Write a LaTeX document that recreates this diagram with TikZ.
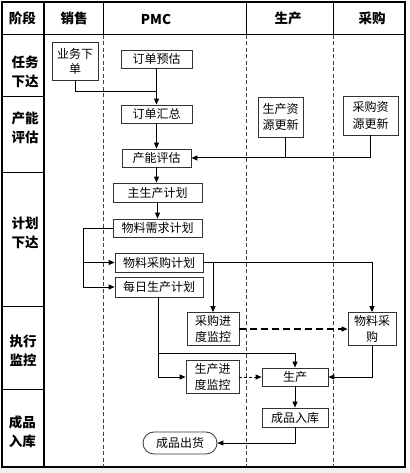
\documentclass[tikz,border=0pt]{standalone}
\usepackage{fontspec}
\setmainfont{Noto Sans CJK SC}
\usetikzlibrary{arrows.meta}
\tikzset{
  box/.style={draw=black!80, line width=0.8pt, inner sep=0pt, align=center,
    font=\fontsize{12}{16.5}\selectfont},
  conn/.style={line width=1pt, -{Triangle[length=6pt,width=5pt]}},
  plainline/.style={line width=1pt},
  lane/.style={dash pattern=on 4pt off 2.5pt, line width=0.9pt, draw=black!75},
  hdr/.style={font=\fontsize{13.5}{19}\selectfont\bfseries, align=center, inner sep=0pt},
  bigdash/.style={dash pattern=on 7pt off 4pt, line width=1.7pt},
  smalldash/.style={dash pattern=on 3pt off 2pt},
}
\begin{document}
\begin{tikzpicture}[x=1pt,y=-1pt]
\useasboundingbox (0,0) rectangle (409,473);
\fill[white] (0,0) rectangle (409,473);
\fill[black!6] (0,468) rectangle (409,473);
% frame
\draw[line width=2pt] (2,2) rectangle (405,467);
\draw[line width=1.2pt] (44,2) -- (44,467);
\draw[line width=1pt] (2,35) -- (405,35);
\foreach \x in {103,246,333} \draw[line width=1pt] (\x,2) -- (\x,35);
\foreach \y in {97,172,306,389} \draw[line width=1pt] (2,\y) -- (44,\y);
\foreach \x in {103,246,333} \draw[lane] (\x,35) -- (\x,467);
% headers
\node[hdr] (h1) at (22.5,18) {阶段};
\node[hdr] (h2) at (74,18) {销售};
\node[hdr] (h3) at (156,19) {PMC};
\node[hdr] (h4) at (288,18) {生产};
\node[hdr] (h5) at (372,18) {采购};
\node[hdr] (r1) at (25,72) {任务\\下达};
\node[hdr] (r2) at (25,128) {产能\\评估};
\node[hdr] (r3) at (25,233) {计划\\下达};
\node[hdr] (r4) at (23,351) {执行\\监控};
\node[hdr] (r5) at (22.5,432) {成品\\入库};
% boxes
\node[box, minimum width=46pt, minimum height=38pt, font=\fontsize{12}{15}\selectfont] (yw) at (75,61) {业务下\\单};
\node[box, minimum width=71pt, minimum height=18pt] (yg) at (156.5,59) {订单预估};
\node[box, minimum width=71pt, minimum height=18pt] (hz) at (156.5,114) {订单汇总};
\node[box, minimum width=69pt, minimum height=18pt] (cn) at (156.5,158) {产能评估};
\node[box, minimum width=89pt, minimum height=19pt] (zsc) at (157.5,192.5) {主生产计划};
\node[box, minimum width=89pt, minimum height=18pt] (wlxq) at (157.5,228) {物料需求计划};
\node[box, minimum width=88pt, minimum height=19pt] (wlcg) at (159,262.5) {物料采购计划};
\node[box, minimum width=88pt, minimum height=20pt] (mrsc) at (159,287) {每日生产计划};
\node[box, minimum width=52pt, minimum height=33pt] (cgjd) at (213,329) {采购进\\度监控};
\node[box, minimum width=53pt, minimum height=33pt] (scjd) at (212.5,377) {生产进\\度监控};
\node[box, minimum width=45pt, minimum height=40pt] (sczy) at (280.5,117) {生产资\\源更新};
\node[box, minimum width=55pt, minimum height=39pt] (cgzy) at (370.5,115.5) {采购资\\源更新};
\node[box, minimum width=48pt, minimum height=33pt] (wlcgb) at (372,329) {物料采\\购};
\node[box, minimum width=66pt, minimum height=18pt] (sc) at (295,377) {生产};
\node[box, minimum width=66pt, minimum height=19pt] (cprk) at (295,417.5) {成品入库};
\node[box, minimum width=74pt, minimum height=22pt, rounded corners=11pt] (cpch) at (180,443) {成品出货};
% connectors
\coordinate (j0) at (156.5,92);
\draw[conn] (yg) -- (hz);
\draw[plainline] (yw.south) |- (j0);
\draw[conn] (hz) -- (cn);
\draw[conn] (cn.south) -- (cn.south |- zsc.north);
\draw[conn] (zsc) -- (wlxq);
\draw[conn] ([xshift=4.5pt]sczy.south) |- (cn.east);
\draw[plainline] (cgzy.south) |- ([xshift=4.5pt]sczy.south |- cn.east);
\coordinate (bx) at (83,228);
\draw[conn] (wlxq.west) -- (bx) |- (mrsc.west);
\draw[conn] (bx |- wlcg.west) -- (wlcg.west);
\draw[conn] (wlcg.east) -| (wlcgb.north);
\draw[conn] (cgjd.north |- wlcg.east) -- (cgjd.north);
\coordinate (m1) at (158,297);
\coordinate (m2) at (158,353);
\draw[conn] (m1) |- (scjd.west);
\draw[conn] (m2) -| (sc.north);
\draw[conn, bigdash] (cgjd.east) -- (wlcgb.west);
\draw[conn, smalldash] (scjd.east) -- (sc.west);
\draw[conn] (wlcgb.south) |- (sc.east);
\draw[conn] (sc) -- (cprk);
\draw[conn] (cprk.south) |- (cpch.east);
\end{tikzpicture}
\end{document}
